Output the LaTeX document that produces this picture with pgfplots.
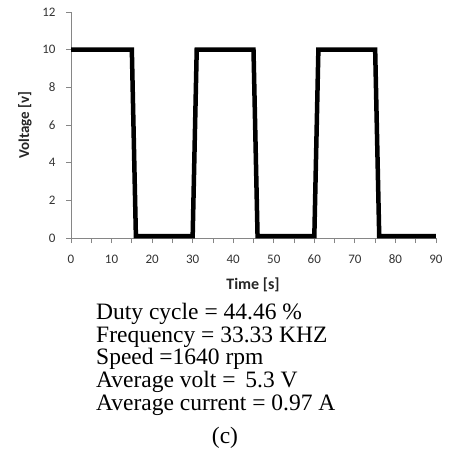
\documentclass[border=0pt]{standalone}
\usepackage{pgfplots}
\pgfplotsset{compat=1.18}
\usepackage{fontspec}
\setmainfont{Liberation Serif}
\newfontfamily\calibri{Carlito}
\definecolor{axgray}{HTML}{868686}
\begin{document}
\begin{tikzpicture}[x=1pt,y=1pt]
\path[use as bounding box] (-71,-212) rectangle (378,238);
\begin{axis}[
  at={(0pt,0pt)}, anchor=origin,
  scale only axis, width=365pt, height=226pt,
  xmin=0, xmax=90, ymin=0, ymax=12,
  axis lines*=left,
  axis line style={axgray, line width=0.8pt},
  xtick={0,10,...,90}, ytick={0,2,...,12},
  minor xtick={5,15,...,85},
  tick align=outside,
  major tick length=5pt, minor tick length=5pt,
  tick style={axgray, line width=0.8pt},
  ticklabel style={font=\calibri\fontsize{13}{13}\selectfont, text=black!80},
  /pgf/number format/assume math mode=true,
  xticklabel style={text height=8.5pt, text depth=0pt, yshift=-8pt},
  yticklabel style={xshift=-7pt},
  clip=false,
]
\addplot[black, line width=4.5pt, line join=miter] coordinates {
  (0,10) (15,10) (16,0.1) (30,0.1) (31,10) (45,10) (46,0.1) (60,0.1) (61,10) (75,10) (76,0.1) (90,0.1)
};
\end{axis}
\node[rotate=90, font=\calibri\bfseries\fontsize{15}{15}\selectfont, text=black!85] at (-46,113) {Voltage [v]};
\node[anchor=base, font=\calibri\bfseries\fontsize{16}{16}\selectfont, text=black!85] at (182,-51) {Time [s]};
\begin{scope}[every node/.style={anchor=base west, inner sep=0pt, font=\fontsize{23.5}{23.5}\selectfont}]
\node at (25,-81) {Duty cycle = 44.46 \%};
\node at (25,-104) {Frequency = 33.33 KHZ};
\node at (25,-126) {Speed =1640 rpm};
\node at (25,-149) {Average volt = \,5.3 V};
\node at (25,-172) {Average current = 0.97 A};
\end{scope}
\node[anchor=base, inner sep=0pt, font=\fontsize{23.5}{23.5}\selectfont] at (154,-205) {(c)};
\end{tikzpicture}
\end{document}
